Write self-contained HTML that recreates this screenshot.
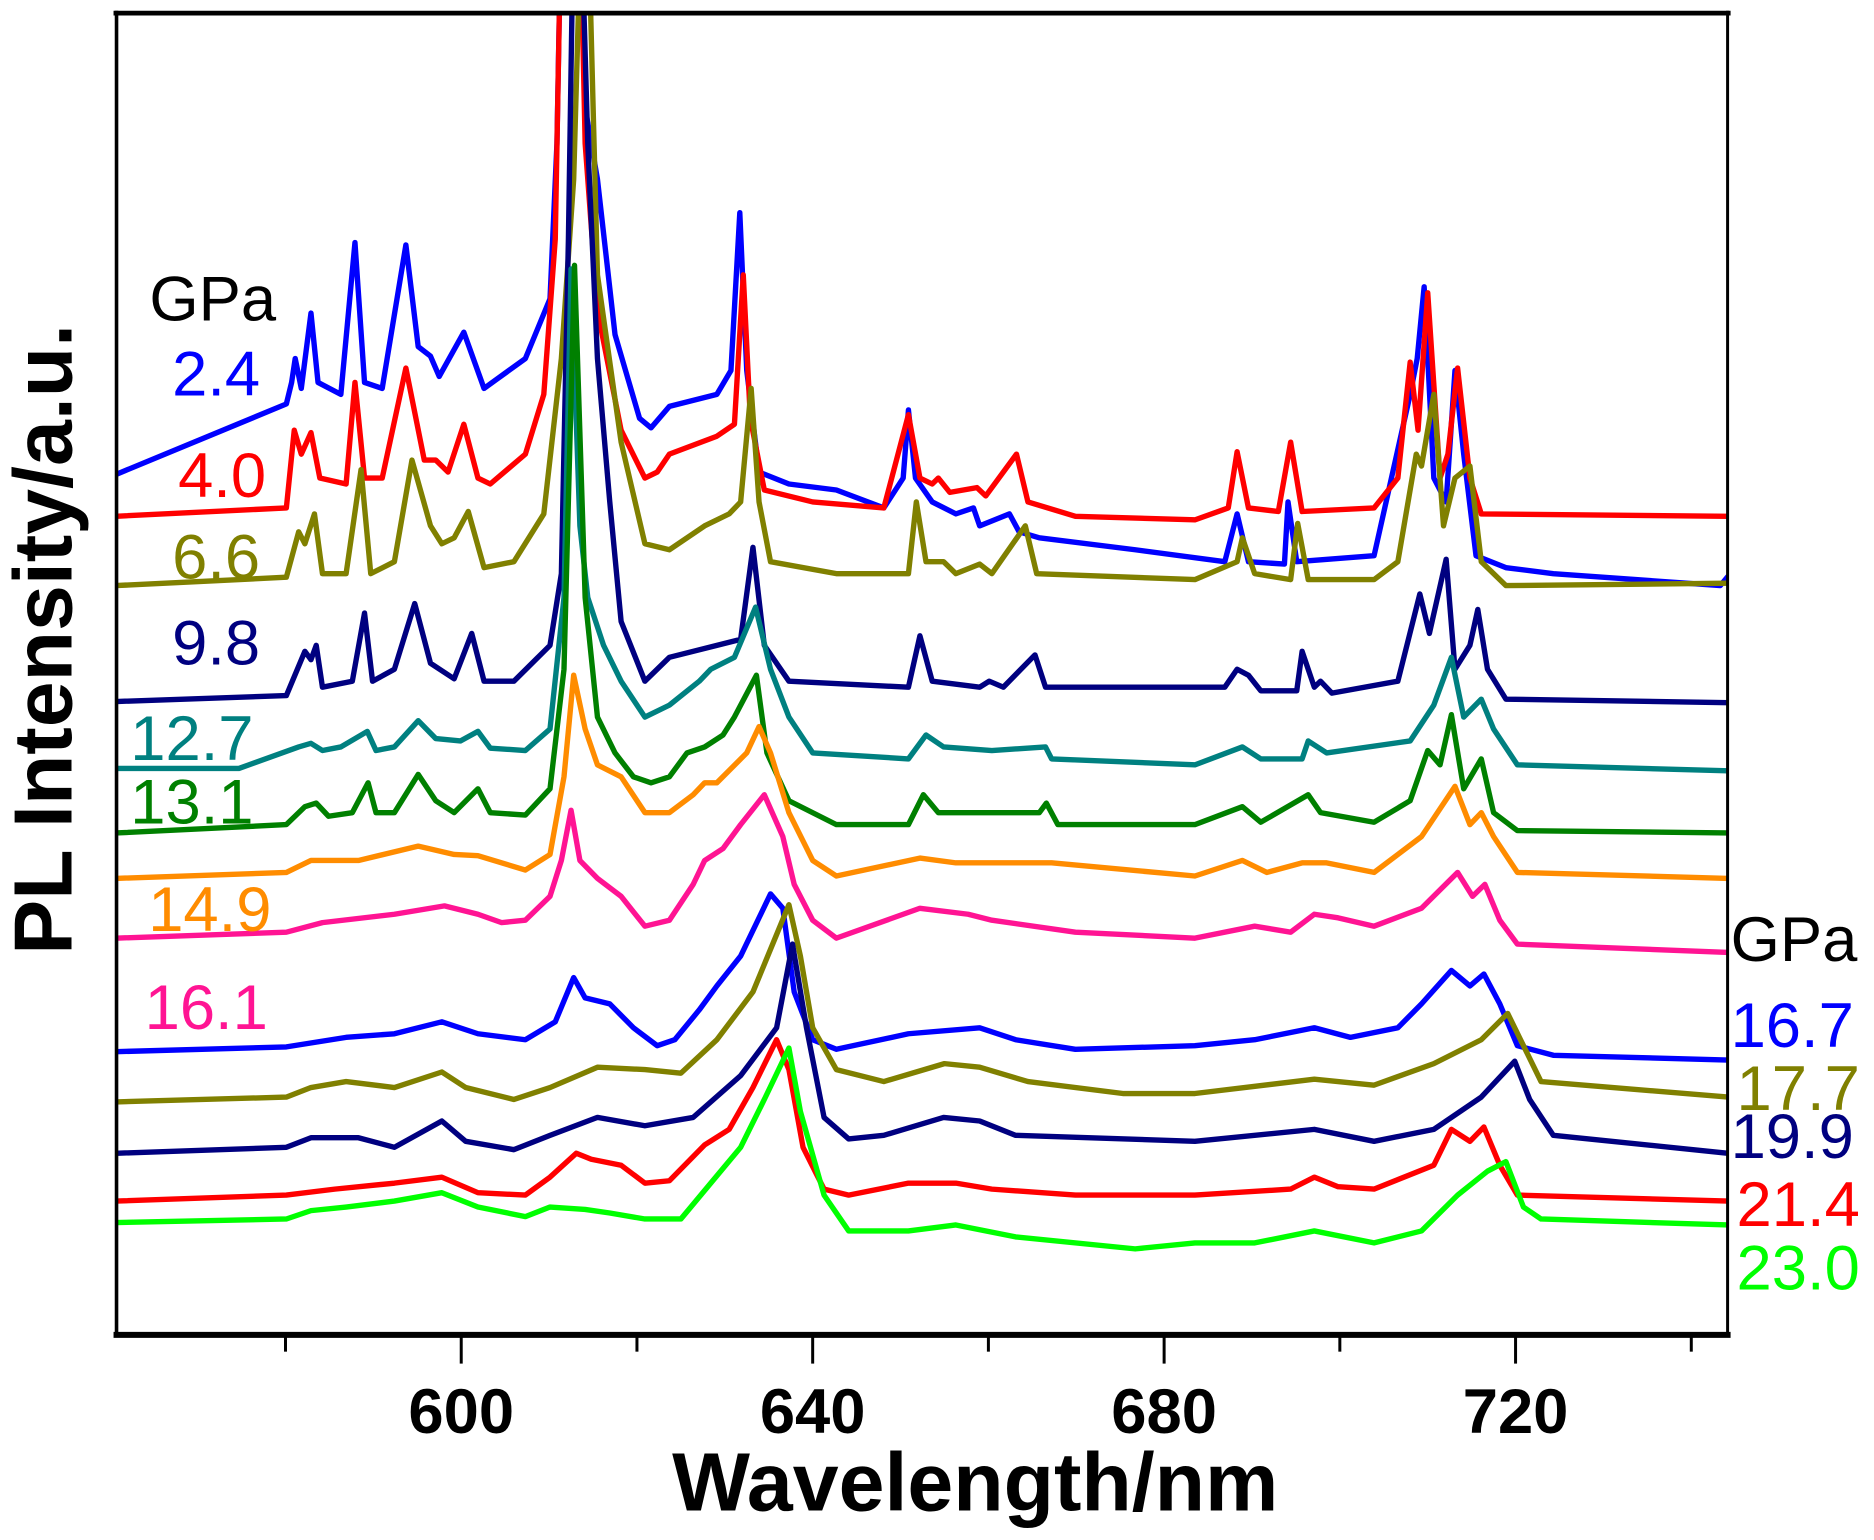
<!DOCTYPE html>
<html><head><meta charset="utf-8"><style>
html,body{margin:0;padding:0;background:#fff;}
svg{display:block;}
text{font-family:"Liberation Sans",Arial,sans-serif;}
</style></head><body>
<svg id="chart" width="1874" height="1540" viewBox="0 0 1568 1288.6" preserveAspectRatio="none" xmlns="http://www.w3.org/2000/svg">
<defs><clipPath id="plotclip"><rect x="97" y="12" width="1349" height="1103"/></clipPath></defs>
<rect x="0" y="0" width="1568" height="1288.6" fill="#fff"/>
<g id="series" clip-path="url(#plotclip)"></g>
<g id="frame">
<line x1="95" y1="11" x2="1448" y2="11" stroke="#000" stroke-width="4"/>
<line x1="95" y1="1117" x2="1448" y2="1117" stroke="#000" stroke-width="5"/>
<line x1="97.5" y1="9" x2="97.5" y2="1119" stroke="#000" stroke-width="3"/>
<line x1="1445.5" y1="9" x2="1445.5" y2="1119" stroke="#000" stroke-width="2.5"/>
</g>
<g id="xticks"></g>
<text x="816" y="1264" text-anchor="middle" font-size="69" font-weight="bold">Wavelength/nm</text>
<text transform="translate(60,535) rotate(-90)" text-anchor="middle" font-size="69" font-weight="bold">PL Intensity/a.u.</text>
<g id="labels"></g>
</svg>
<script>
const xTicks = [580, 600, 620, 640, 660, 680, 700, 720, 740];
const xTickLabels = ["", "600", "", "640", "", "680", "", "720", ""];
const seriesNames = ["2.4","4.0","6.6","9.8","12.7","13.1","14.9","16.1","16.7","17.7","19.9","21.4","23.0"];
const seriesColors = ["#0000ff","#ff0000","#808000","#000080","#008080","#008000","#ff8c00","#ff1493","#0000ff","#808000","#000080","#ff0000","#00ff00"];

const wl_24 = [560.7,580.1,580.7,581.1,581.8,582.9,583.7,586.3,587.9,589.0,591.0,593.7,595.1,596.5,597.5,600.3,602.6,607.3,610.1,610.9,611.4,613.5,614.1,615.5,617.5,620.3,621.6,623.7,629.1,630.7,631.7,632.5,633.9,637.3,642.7,648.1,650.3,650.9,651.7,653.6,656.3,658.3,659.0,662.4,663.5,665.8,676.7,686.9,688.3,689.6,693.7,694.1,695.1,703.9,708.0,708.8,709.6,710.7,712.1,713.1,714.1,715.5,718.9,724.3,743.3,744.2];
const I_24 = [720,779,797,817,792,855,797,787,914,797,792,912,827,819,802,839,792,817,867,997,1200,1200,1027,967,837,767,759,777,787,807,939,807,722,712,707,692,717,774,717,697,687,692,677,687,672,667,657,647,687,647,645,697,647,652,787,817,877,717,697,807,737,652,642,637,627,635];

const wl_40 = [560.7,580.1,581.0,581.8,582.9,583.9,586.9,587.9,589.0,591.0,593.7,595.8,597.1,598.5,600.3,601.9,603.3,607.3,609.4,610.7,611.4,613.5,614.1,615.5,618.2,620.9,622.3,623.7,629.1,631.1,632.1,632.9,634.5,640.0,648.1,650.9,652.2,653.6,654.3,655.6,658.7,659.7,663.2,664.5,669.9,683.5,687.3,688.3,689.6,693.0,694.4,695.7,703.9,706.6,708.0,708.9,710.0,711.4,712.3,713.4,714.8,716.1,744.2];
const I_40 = [685,692,757,737,755,717,712,797,717,717,809,732,732,722,762,717,712,737,787,917,1200,1200,997,857,757,717,722,737,752,762,887,767,707,697,692,770,717,712,717,705,709,702,737,697,685,682,692,739,692,689,747,689,692,717,814,757,872,717,737,809,717,687,685];

const wl_66 = [560.7,580.1,581.5,582.2,583.3,584.2,586.9,588.6,589.7,592.4,594.4,596.5,597.8,599.2,600.8,602.6,606.0,609.4,611.4,612.8,613.7,614.4,615.5,618.2,620.9,623.7,627.7,630.5,631.8,633.0,633.9,635.2,642.7,650.9,651.8,652.9,654.9,656.3,659.0,660.4,664.2,665.5,683.5,688.3,688.9,690.3,694.4,695.2,696.4,703.9,706.6,708.7,709.3,710.7,711.8,713.1,714.8,716.1,718.9,744.2];
const I_66 = [627,634,672,662,687,637,637,724,637,647,732,677,662,667,689,642,647,687,817,967,1200,1200,887,747,662,657,677,687,697,792,697,647,637,637,697,647,647,637,645,637,677,637,632,647,667,637,632,679,632,632,647,737,727,787,677,717,727,647,627,629];

const wl_98 = [560.7,580.1,582.2,582.9,583.5,584.2,587.6,589.0,589.9,592.4,594.7,596.5,599.2,601.2,602.6,606.0,610.1,611.4,612.2,612.8,613.6,614.4,615.5,616.9,618.2,620.9,623.7,629.1,631.8,633.2,634.5,637.3,650.9,652.2,653.6,659.0,660.1,661.7,665.3,666.5,686.9,688.3,689.6,691.0,695.1,695.7,697.1,697.8,699.1,706.6,709.1,710.2,712.1,713.1,714.8,715.7,716.8,718.9,744.2];
const I_98 = [530,535,572,565,577,542,547,604,547,557,612,562,549,587,547,547,577,637,917,1200,1200,997,817,697,597,547,567,577,582,659,577,547,542,585,547,542,547,542,569,542,542,557,552,539,539,572,542,547,537,547,620,587,649,557,577,607,557,532,529];

const wl_127 = [560.7,574.7,581.5,582.9,584.2,586.3,589.3,590.3,592.4,595.1,597.1,599.9,601.9,603.3,607.3,610.1,611.7,612.5,613.5,614.4,616.2,618.2,620.9,623.7,627.1,628.4,631.1,633.5,635.2,637.3,640.0,650.9,652.9,654.9,660.4,666.5,667.2,683.5,688.9,691.0,695.7,696.4,698.5,708.0,710.7,712.7,714.1,716.1,717.5,720.2,744.2];
const I_127 = [474,474,492,495,489,492,505,489,492,514,499,497,505,491,489,507,617,892,677,617,577,547,517,527,547,557,567,609,557,517,487,482,502,492,489,492,482,477,492,482,482,497,487,497,527,567,517,532,507,477,472];

const wl_131 = [560.7,580.1,582.2,583.5,584.9,587.6,589.4,590.3,592.4,595.1,597.1,599.2,601.9,603.3,607.3,610.1,611.7,612.9,614.1,615.5,617.5,619.6,621.6,623.7,625.7,627.7,629.8,631.1,633.6,634.8,637.3,642.7,650.9,652.6,654.3,665.8,666.6,667.9,683.5,688.9,691.0,696.4,697.8,703.9,708.0,710.0,711.4,712.7,714.1,716.1,717.5,720.2,744.2];
const I_131 = [420,427,442,445,434,437,462,437,437,469,447,437,457,437,435,457,557,895,617,517,487,467,462,467,487,492,502,517,552,487,447,427,427,452,437,437,445,427,427,442,429,452,437,429,447,489,477,519,457,482,437,422,420];

const wl_149 = [560.7,580.1,582.9,588.3,595.1,599.2,601.9,607.3,610.1,611.7,612.8,614.1,615.5,618.2,620.9,623.7,626.4,627.7,629.1,632.5,633.9,635.2,637.3,640.0,642.7,652.2,656.3,667.2,683.5,688.9,691.7,695.7,698.5,703.9,709.3,713.1,714.8,716.1,717.5,720.2,744.2];
const I_149 = [382,387,397,397,409,402,401,389,402,467,552,507,477,467,437,437,452,462,462,487,509,487,437,397,384,399,395,395,384,397,387,395,395,387,417,459,427,437,417,387,382];

const wl_161 = [560.7,580.1,584.2,592.4,598.1,601.9,604.6,607.3,610.1,611.4,612.5,613.5,615.5,618.2,620.9,623.7,626.4,627.7,629.8,631.8,634.5,636.6,637.9,640.0,642.7,652.2,657.7,660.4,669.9,683.5,690.3,694.4,697.1,699.8,703.9,709.3,713.4,715.1,716.5,718.2,720.2,744.2];
const I_161 = [332,337,345,352,359,352,345,347,367,397,439,397,382,367,342,347,377,397,407,427,452,417,377,347,332,357,352,347,337,332,342,337,352,349,342,357,387,367,377,347,327,320];

const wl_167 = [560.7,580.1,586.9,592.4,597.8,601.9,607.3,610.7,612.8,614.1,616.9,619.6,622.3,624.3,627.1,629.1,631.8,635.2,636.6,637.9,640.0,642.7,650.9,659.0,663.1,669.9,683.5,690.3,697.1,701.2,706.6,709.3,712.7,714.8,716.4,718.2,720.2,724.3,744.2];
const I_167 = [237,241,249,252,262,252,247,262,299,282,277,257,242,247,272,292,317,369,357,287,247,239,252,257,247,239,242,247,257,249,257,277,305,292,302,277,242,234,230];

const wl_177 = [560.7,580.1,582.9,586.9,592.4,597.8,600.5,606.0,610.1,615.5,620.9,625.0,629.1,633.2,637.3,638.6,640.0,642.7,648.1,655.0,659.0,664.5,675.3,683.5,697.1,703.9,710.7,716.1,719.1,720.9,722.9,744.2];
const I_177 = [195,199,207,212,207,220,207,197,207,224,222,219,247,287,360,317,257,222,212,227,224,212,202,202,214,209,227,247,269,242,212,199];

const wl_199 = [560.7,580.1,582.9,588.3,592.4,597.8,600.5,606.0,610.1,615.5,620.9,626.4,631.8,635.9,637.7,639.3,641.3,644.1,648.1,654.9,659.0,663.1,683.5,697.1,703.9,710.7,716.1,719.9,721.6,724.3,744.2];
const I_199 = [152,157,165,165,157,179,162,155,167,182,175,182,217,257,327,257,182,164,167,182,179,167,162,172,162,172,199,229,197,167,152];

const wl_214 = [560.7,580.1,585.6,592.4,597.8,601.9,607.3,610.1,613.1,614.8,618.2,620.9,623.7,627.7,630.5,633.2,635.9,637.3,638.9,641.3,644.1,650.9,656.3,660.4,669.9,683.5,694.4,697.1,699.8,703.9,710.7,712.7,714.8,716.4,718.2,720.2,744.2];
const I_214 = [112,117,122,127,132,119,117,132,152,147,142,127,129,159,172,207,247,222,157,122,117,127,127,122,117,117,122,132,124,122,142,172,162,174,142,117,112];

const wl_230 = [560.7,580.1,582.9,586.9,592.4,597.8,601.9,607.3,610.1,614.1,616.9,620.9,625.0,628.4,631.8,634.5,637.3,638.6,641.3,644.1,650.9,656.3,663.1,676.7,683.5,690.3,697.1,703.9,709.3,713.4,716.8,718.9,720.9,722.9,744.2];
const I_230 = [94,97,104,107,112,119,107,99,107,105,102,97,97,127,157,197,240,187,117,87,87,92,82,72,77,77,87,77,87,117,137,145,107,97,92];

const seriesWl = [wl_24, wl_40, wl_66, wl_98, wl_127, wl_131, wl_149, wl_161, wl_167, wl_177, wl_199, wl_214, wl_230];
const seriesI = [I_24, I_40, I_66, I_98, I_127, I_131, I_149, I_161, I_167, I_177, I_199, I_214, I_230];

const X0 = 560.7, X1 = 744.2, PX0 = 97, PX1 = 1446;
const Y0 = 0, Y1 = 1107, PY0 = 1117, PY1 = 10;
function xs(v){ return PX0 + (v - X0) / (X1 - X0) * (PX1 - PX0); }
function ys(v){ return PY0 + (v - Y0) / (Y1 - Y0) * (PY1 - PY0); }

const NS = "http://www.w3.org/2000/svg";
const gS = document.getElementById("series");
for (let s = 0; s < seriesWl.length; s++) {
  const pts = seriesWl[s].map((w, i) => xs(w).toFixed(1) + "," + ys(seriesI[s][i]).toFixed(1)).join(" ");
  const pl = document.createElementNS(NS, "polyline");
  pl.setAttribute("points", pts);
  pl.setAttribute("fill", "none");
  pl.setAttribute("stroke", seriesColors[s]);
  pl.setAttribute("stroke-width", "4.5");
  pl.setAttribute("stroke-linejoin", "round");
  
  
  gS.appendChild(pl);
}

const gT = document.getElementById("xticks");
for (let i = 0; i < xTicks.length; i++) {
  const x = xs(xTicks[i]);
  const major = xTickLabels[i] !== "";
  const ln = document.createElementNS(NS, "line");
  ln.setAttribute("x1", x); ln.setAttribute("x2", x);
  ln.setAttribute("y1", 1117); ln.setAttribute("y2", major ? 1141 : 1131);
  ln.setAttribute("stroke", "#000"); ln.setAttribute("stroke-width", "2.5");
  
  
  gT.appendChild(ln);
  if (major) {
    const t = document.createElementNS(NS, "text");
    t.setAttribute("x", x); t.setAttribute("y", 1199);
    t.setAttribute("text-anchor", "middle");
    t.setAttribute("font-size", "53"); t.setAttribute("font-weight", "bold");
    t.textContent = xTickLabels[i];
    
    
    gT.appendChild(t);
  }
}

const labelText = ["GPa","2.4","4.0","6.6","9.8","12.7","13.1","14.9","16.1","GPa","16.7","17.7","19.9","21.4","23.0"];
const labelColor = ["#000","#0000ff","#ff0000","#808000","#000080","#008080","#008000","#ff8c00","#ff1493","#000","#0000ff","#808000","#000080","#ff0000","#00ff00"];
const labelPos = [[125,268],[144,331],[149,416],[144,484],[144,556],[109,636],[109,689],[124,779],[121,861],[1448,804],[1448,876],[1453,929],[1448,969],[1453,1026],[1453,1079]];
const gL = document.getElementById("labels");
for (let i = 0; i < labelText.length; i++) {
  const t = document.createElementNS(NS, "text");
  t.setAttribute("x", labelPos[i][0]); t.setAttribute("y", labelPos[i][1]);
  t.setAttribute("font-size", "53");
  t.setAttribute("fill", labelColor[i]);
  t.textContent = labelText[i];
  
  
  gL.appendChild(t);
}
</script>
</body></html>
